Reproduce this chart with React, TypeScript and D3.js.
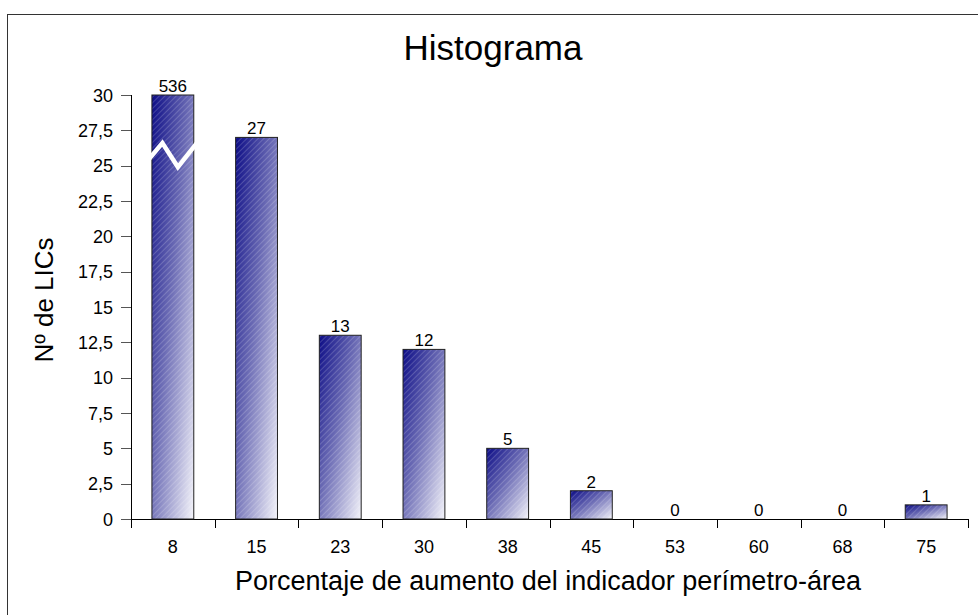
import * as d3 from "d3";
import { useEffect, useRef } from "react";

// histogram data
const categories = ["8", "15", "23", "30", "38", "45", "53", "60", "68", "75"];
const counts = [536, 27, 13, 12, 5, 2, 0, 0, 0, 1];
const yTicks = [0, 2.5, 5, 7.5, 10, 12.5, 15, 17.5, 20, 22.5, 25, 27.5, 30];
const yMax = 30;

const title = "Histograma";
const xTitle = "Porcentaje de aumento del indicador perímetro-área";
const yTitle = "Nº de LICs";

export default function App() {
    const ref = useRef<SVGSVGElement | null>(null);
    const width = 978;
    const height = 615;

    useEffect(() => {
        if (!ref.current) return;
        const svg = d3.select(ref.current);
        svg.selectAll("*").remove();

        const font = "Liberation Sans, Arial, sans-serif";
        const left = 131, right = 968, top = 95, bottom = 519;

        const x = d3.scaleBand<string>()
            .domain(categories)
            .range([left, right])
            .paddingInner(0.5)
            .paddingOuter(0.25);
        const band = (right - left) / categories.length;

        const y = d3.scaleLinear().domain([0, yMax]).range([bottom, top]);

        const defs = svg.append("defs");
        const grad = defs.append("linearGradient")
            .attr("id", "barGrad")
            .attr("x1", 0).attr("y1", 0).attr("x2", 1).attr("y2", 1);
        grad.append("stop").attr("offset", "0%").attr("stop-color", "#0c0c86");
        grad.append("stop").attr("offset", "45%").attr("stop-color", "#6a6ab4");
        grad.append("stop").attr("offset", "100%").attr("stop-color", "#f4f4fa");

        const pat = defs.append("pattern")
            .attr("id", "hatch")
            .attr("patternUnits", "userSpaceOnUse")
            .attr("width", 4).attr("height", 4)
            .attr("patternTransform", "rotate(45)");
        pat.append("line")
            .attr("x1", 0).attr("y1", 0).attr("x2", 0).attr("y2", 4)
            .attr("stroke", "#ffffff").attr("stroke-opacity", 0.3).attr("stroke-width", 1.2);

        // frame (right/bottom edges fall outside the picture)
        svg.append("rect")
            .attr("x", 7.5).attr("y", 14.5)
            .attr("width", 1000).attr("height", 700)
            .attr("fill", "none").attr("stroke", "#333").attr("stroke-width", 1);

        // title
        svg.append("text")
            .attr("x", 493).attr("y", 60)
            .attr("text-anchor", "middle")
            .attr("font-family", font).attr("font-size", 35)
            .attr("fill", "#000")
            .text(title);

        // y axis
        svg.append("line")
            .attr("x1", left + 0.5).attr("x2", left + 0.5)
            .attr("y1", y(yMax)).attr("y2", bottom)
            .attr("stroke", "#000");
        yTicks.forEach(t => {
            svg.append("line")
                .attr("x1", left - 10).attr("x2", left)
                .attr("y1", Math.round(y(t)) + 0.5).attr("y2", Math.round(y(t)) + 0.5)
                .attr("stroke", "#555");
            svg.append("text")
                .attr("x", left - 18).attr("y", y(t) + 6.5)
                .attr("text-anchor", "end")
                .attr("font-family", font).attr("font-size", 18)
                .text(String(t).replace(".", ","));
        });

        // x axis
        svg.append("line")
            .attr("x1", left).attr("x2", right)
            .attr("y1", bottom + 0.5).attr("y2", bottom + 0.5)
            .attr("stroke", "#000");
        d3.range(categories.length + 1).forEach(i => {
            const xx = Math.round(left + i * band) + 0.5;
            svg.append("line")
                .attr("x1", xx).attr("x2", xx)
                .attr("y1", bottom).attr("y2", bottom + 9)
                .attr("stroke", "#000");
        });
        categories.forEach(c => {
            svg.append("text")
                .attr("x", x(c)! + x.bandwidth() / 2).attr("y", bottom + 34)
                .attr("text-anchor", "middle")
                .attr("font-family", font).attr("font-size", 18)
                .text(c);
        });

        // bars
        categories.forEach((c, i) => {
            const v = Math.min(counts[i], yMax);
            const bx = x(c)!;
            const bw = x.bandwidth();
            const by = y(v);
            const bh = bottom - by;
            if (bh > 0) {
                svg.append("rect")
                    .attr("x", bx).attr("y", by).attr("width", bw).attr("height", bh)
                    .attr("fill", "url(#barGrad)");
                svg.append("rect")
                    .attr("x", bx).attr("y", by).attr("width", bw).attr("height", bh)
                    .attr("fill", "url(#hatch)")
                    .attr("stroke", "#222").attr("stroke-width", 1);
            }
            svg.append("text")
                .attr("x", bx + bw / 2).attr("y", by - 3)
                .attr("text-anchor", "middle")
                .attr("font-family", font).attr("font-size", 17)
                .text(String(counts[i]));

            // axis break on the truncated bar
            if (counts[i] > yMax) {
                const zig = d3.line<[number, number]>()
                    .x(d => d[0]).y(d => d[1]);
                svg.append("path")
                    .attr("d", zig([
                        [bx - 5, y(25.3)],
                        [bx + bw * 0.25, y(26.6)],
                        [bx + bw * 0.62, y(24.9)],
                        [bx + bw + 3, y(26.6)],
                    ]))
                    .attr("fill", "none")
                    .attr("stroke", "#fff").attr("stroke-width", 4.5);
            }
        });

        // axis titles
        svg.append("text")
            .attr("x", 548).attr("y", 590)
            .attr("text-anchor", "middle")
            .attr("font-family", font).attr("font-size", 27)
            .text(xTitle);
        svg.append("text")
            .attr("transform", `translate(53,300) rotate(-90)`)
            .attr("text-anchor", "middle")
            .attr("font-family", font).attr("font-size", 26)
            .text(yTitle);
    }, []);

    return (
        <svg
            ref={ref}
            width={width}
            height={height}
            style={{ position: "absolute", left: 0, top: 0, background: "#fff" }}
        />
    );
}
